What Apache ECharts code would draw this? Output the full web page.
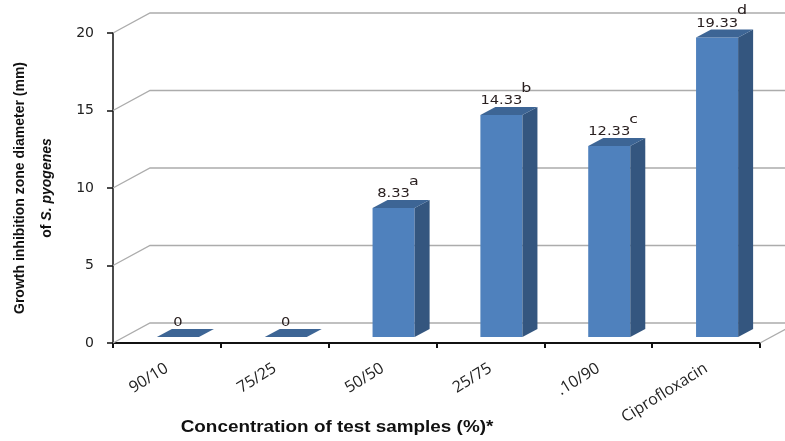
<!DOCTYPE html>
<html>
<head>
<meta charset="utf-8">
<script src="https://cdn.jsdelivr.net/npm/echarts@6/dist/echarts.min.js"></script>
<style>
  html, body { margin: 0; padding: 0; background: #fff; }
  #chart { width: 785px; height: 441px; }
</style>
</head>
<body>
<div id="chart"></div>
<script>
// values
const categories = ['90/10', '75/25', '50/50', '25/75', '.10/90', 'Ciprofloxacin'];
const zoneDiameter = [0, 0, 8.33, 14.33, 12.33, 19.33];
const sigLetters = ['', '', 'a', 'b', 'c', 'd'];
const yTicks = [0, 5, 10, 15, 20];

// fake 3d projection (pixels)
const wallDx = 37, wallDy = -20;     // full depth of the plot box
const barShiftX = 11, barShiftY = -6; // bar sits in the middle of the depth
const barDx = 15, barDy = -8;         // depth of one bar

const myChart = echarts.init(document.getElementById('chart'));

function renderWall(params, api) {
  const t = api.value(1);
  const band = api.size([1, 0])[0];
  const p = api.coord([0, t]);
  const left = p[0] - band / 2;
  const right = left + band * categories.length;
  const y = p[1];
  const lineStyle = { stroke: '#acacac', lineWidth: 1.3, fill: null };
  const children = [
    { type: 'polyline', shape: { points: [[left, y], [left + wallDx, y + wallDy], [right + wallDx, y + wallDy]] }, style: lineStyle }
  ];
  if (t === 0) {
    children.push({ type: 'line', shape: { x1: right, y1: y, x2: right + wallDx, y2: y + wallDy }, style: lineStyle });
  }
  return { type: 'group', children: children };
}

function renderBar(params, api) {
  const i = api.value(0);
  const v = api.value(1);
  const bw = api.size([1, 0])[0] * 0.39;
  const top = api.coord([i, v]);
  const base = api.coord([i, 0]);
  const xl = top[0] - bw / 2 + barShiftX;
  const xr = xl + bw;
  const yt = top[1] + barShiftY;
  const yb = base[1] + barShiftY;
  const children = [];
  if (yb - yt > 0.5) {
    children.push({ type: 'rect', shape: { x: xl, y: yt, width: bw, height: yb - yt }, style: { fill: '#4f81bd' } });
    children.push({ type: 'polygon', shape: { points: [[xr, yt], [xr + barDx, yt + barDy], [xr + barDx, yb + barDy], [xr, yb]] }, style: { fill: '#34567f' } });
  }
  children.push({ type: 'polygon', shape: { points: [[xl, yt], [xl + barDx, yt + barDy], [xr + barDx, yt + barDy], [xr, yt]] }, style: { fill: '#3d6595' } });

  const txt = v === 0 ? '0' : v.toFixed(2);
  const cx = (xl + xr) / 2;
  const font = '12px "DejaVu Sans"';
  const tw = echarts.format.getTextRect ? echarts.format.getTextRect(txt, font).width : txt.length * 7.5;
  const sx = 1.22;
  children.push({
    type: 'text', x: cx, y: yt - 8, scaleX: sx,
    style: { text: txt, font: font, fill: '#2a2020', align: 'center', verticalAlign: 'bottom' }
  });
  const letter = sigLetters[i];
  if (letter) {
    children.push({
      type: 'text', x: cx + tw * sx / 2 - 1, y: yt - 20, scaleX: sx,
      style: { text: letter, font: '13px "DejaVu Sans"', fill: '#2a2020', align: 'left', verticalAlign: 'bottom' }
    });
  }
  return { type: 'group', children: children };
}

const option = {
  animation: false,
  backgroundColor: '#ffffff',
  grid: { left: 113, right: 25, top: 33, bottom: 98, outerBoundsMode: 'none', containLabel: false },
  graphic: [
    {
      type: 'text', x: 337, y: 428, scaleX: 1.18, originX: 0,
      style: {
        text: 'Concentration of test samples (%)*',
        font: 'bold 16px "Liberation Sans"', fill: '#111', align: 'center', verticalAlign: 'middle'
      }
    }
  ],
  xAxis: {
    type: 'category',
    data: categories,
    axisLine: { lineStyle: { color: '#111', width: 2 } },
    axisTick: { show: true, length: 5, lineStyle: { color: '#111', width: 2 } },
    axisLabel: { rotate: 32, margin: 24, fontSize: 16, fontFamily: 'Open Sans', color: '#222' }
  },
  yAxis: {
    type: 'value',
    min: 0, max: 20, interval: 5,
    splitLine: { show: false },
    axisLine: { show: true, lineStyle: { color: '#111', width: 1.5 } },
    axisTick: { show: true, length: 6, lineStyle: { color: '#111', width: 1.5 } },
    axisLabel: { margin: 19, fontSize: 14, fontFamily: 'DejaVu Sans', color: '#222' },
    name: 'Growth inhibition zone diameter (mm)\nof {i|S. pyogenes}',
    nameLocation: 'middle',
    nameGap: 52,
    nameTextStyle: {
      fontFamily: 'Liberation Sans', fontWeight: 'bold', fontSize: 14, color: '#111', lineHeight: 27,
      rich: { i: { fontFamily: 'Liberation Sans', fontWeight: 'bold', fontStyle: 'italic', fontSize: 14, color: '#111', lineHeight: 27 } }
    }
  },
  series: [
    {
      type: 'custom',
      z: 1,
      silent: true,
      renderItem: renderWall,
      data: yTicks.map(t => [0, t])
    },
    {
      type: 'custom',
      z: 3,
      renderItem: renderBar,
      data: zoneDiameter.map((v, i) => [i, v])
    }
  ]
};
option && myChart.setOption(option);
</script>
</body>
</html>
